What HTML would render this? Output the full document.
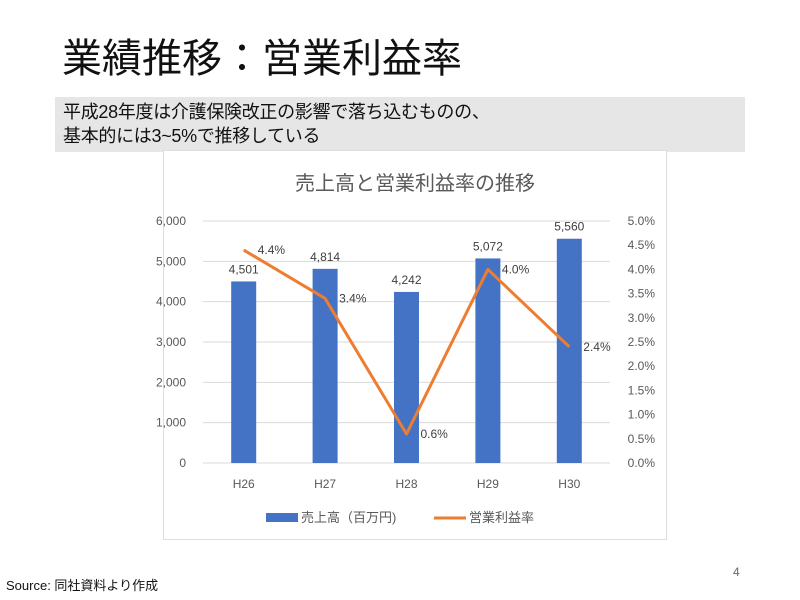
<!DOCTYPE html>
<html><head><meta charset="utf-8"><style>
body{margin:0;width:800px;height:600px;background:#fff;position:relative;overflow:hidden;font-family:"Liberation Sans","Noto Sans CJK JP",sans-serif;}
#title{position:absolute;left:62px;top:26px;font-size:40px;color:#111;letter-spacing:0px}
#band{position:absolute;left:55px;top:97px;width:690px;height:55px;background:#e6e6e6}
#band div{position:absolute;left:8px;font-size:18px;color:#111;letter-spacing:-0.3px}
#chartbox{position:absolute;left:163px;top:150px;width:504px;height:390px;background:#fff;border:1px solid #ddd;box-sizing:border-box}
#src{position:absolute;left:6px;top:575px;font-size:13px;color:#111}
#pg{position:absolute;left:733px;top:565px;font-size:12px;color:#666}
</style></head><body>
<div id="title">業績推移：営業利益率</div>
<div id="band">
<div style="top:1px">平成28年度は介護保険改正の影響で落ち込むものの、</div>
<div style="top:25px">基本的には3~5%で推移している</div>
</div>
<div id="chartbox"></div>
<svg id="chart" width="800" height="600" style="position:absolute;left:0;top:0"></svg>
<div id="src">Source: 同社資料より作成</div>
<div id="pg">4</div>
<script>
const categories=["H26","H27","H28","H29","H30"];
const sales=[4501,4814,4242,5072,5560];
const margin=[4.4,3.4,0.6,4.0,2.4];
const leftTicks=[0,1000,2000,3000,4000,5000,6000];
const rightTicks=[0,0.5,1,1.5,2,2.5,3,3.5,4,4.5,5];
const NS="http://www.w3.org/2000/svg";
const svg=document.getElementById('chart');
const X0=203,X1=610,Y0=463,Y1=221;
const step=(X1-X0)/categories.length;
const xc=i=>X0+step*(i+0.5);
const yL=v=>Y0-(v/6000)*(Y0-Y1);
const yR=v=>Y0-(v/5)*(Y0-Y1);
function mk(tag,attrs,txt){const e=document.createElementNS(NS,tag);for(const k in attrs)e.setAttribute(k,attrs[k]);if(txt!==undefined)e.textContent=txt;svg.appendChild(e);return e;}
const F='"Liberation Sans","Noto Sans CJK JP",sans-serif';
let t=mk('text',{x:415,y:190,'text-anchor':'middle','font-size':20,fill:'#595959','font-family':F},'売上高と営業利益率の推移');


leftTicks.forEach(v=>{
 let g=mk('line',{x1:X0,x2:X1,y1:yL(v),y2:yL(v),stroke:'#d9d9d9','stroke-width':1});
 
 
 let l=mk('text',{x:186,y:yL(v)+4,'text-anchor':'end','font-size':12,fill:'#595959','font-family':F},v.toLocaleString('en-US'));
 
 
});
rightTicks.forEach(v=>{
 let l=mk('text',{x:655,y:yR(v)+4,'text-anchor':'end','font-size':12,fill:'#595959','font-family':F},v.toFixed(1)+'%');
 
 
});
categories.forEach((c,i)=>{
 let b=mk('rect',{x:xc(i)-12.5,y:yL(sales[i]),width:25,height:Y0-yL(sales[i]),fill:'#4472c4'});
 
 
 let v=mk('text',{x:xc(i),y:yL(sales[i])-8,'text-anchor':'middle','font-size':12,fill:'#404040','font-family':F},sales[i].toLocaleString('en-US'));
 
 
 let x=mk('text',{x:xc(i),y:488,'text-anchor':'middle','font-size':12,fill:'#595959','font-family':F},c);
 
 
});
let pts=categories.map((c,i)=>xc(i)+','+yR(margin[i])).join(' ');
let pl=mk('polyline',{points:pts,fill:'none',stroke:'#ed7d31','stroke-width':3,'stroke-linejoin':'round'});


margin.forEach((m,i)=>{
 let l=mk('text',{x:xc(i)+14,y:yR(m)+4,'font-size':12,fill:'#404040','font-family':F},m.toFixed(1)+'%');
 
 
});
let lg1=mk('rect',{x:266,y:513,width:32,height:9,fill:'#4472c4'});


let lt1=mk('text',{x:301,y:522,'font-size':13,fill:'#595959','font-family':F},'売上高（百万円)');


let lg2=mk('line',{x1:434,x2:466,y1:518,y2:518,stroke:'#ed7d31','stroke-width':3});


let lt2=mk('text',{x:469,y:522,'font-size':13,fill:'#595959','font-family':F},'営業利益率');


</script>
</body></html>
